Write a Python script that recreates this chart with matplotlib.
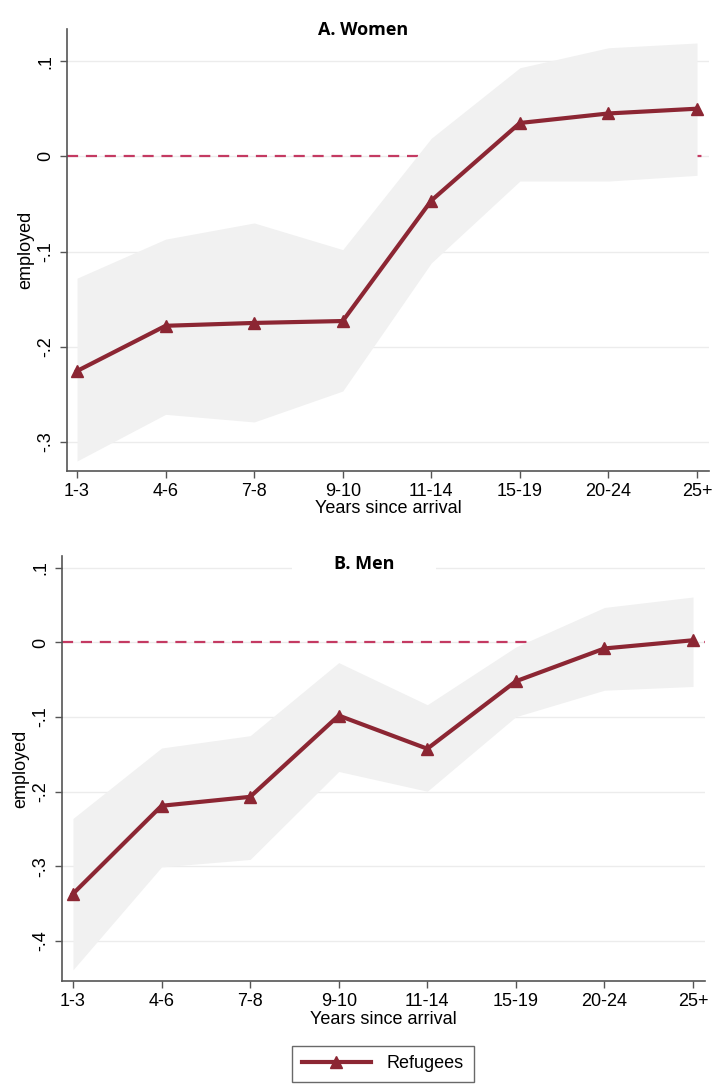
import matplotlib
matplotlib.use("Agg")
import matplotlib.pyplot as plt
from matplotlib.lines import Line2D

categories = ["1-3", "4-6", "7-8", "9-10", "11-14", "15-19", "20-24", "25+"]

women_est = [-0.2255, -0.178, -0.175, -0.173, -0.0465, 0.035, 0.045, 0.050]
women_hi = [-0.128, -0.087, -0.070, -0.098, 0.019, 0.093, 0.114, 0.119]
women_lo = [-0.320, -0.271, -0.279, -0.2465, -0.112, -0.026, -0.026, -0.020]

men_est = [-0.337, -0.219, -0.207, -0.098, -0.1425, -0.052, -0.008, 0.003]
men_hi = [-0.236, -0.1415, -0.125, -0.027, -0.0835, -0.006, 0.047, 0.061]
men_lo = [-0.439, -0.301, -0.291, -0.173, -0.1995, -0.0995, -0.064, -0.059]

women_ticks = [0.1, 0.0, -0.1, -0.2, -0.3]
women_ticklabels = [".1", "0", "-.1", "-.2", "-.3"]
men_ticks = [0.1, 0.0, -0.1, -0.2, -0.3, -0.4]
men_ticklabels = [".1", "0", "-.1", "-.2", "-.3", "-.4"]

plt.rcParams['font.family'] = ['Liberation Sans', 'DejaVu Sans']

LINE_C = "#8c2633"
FILL_C = "#f1f1f1"
DASH_C = "#c43a62"
GRID_C = "#ececec"
SPINE_C = "#555555"
FS = 13

fig = plt.figure(figsize=(7.18, 10.84), dpi=100)
W, H = 718, 1084


def make_ax(box, est, lo, hi, ticks, ticklabels, ylim, xlim):
    x0, y0, x1, y1 = box
    ax = fig.add_axes([x0 / W, 1 - y1 / H, (x1 - x0) / W, (y1 - y0) / H])
    xs = list(range(len(categories)))
    for t in ticks:
        ax.axhline(t, color=GRID_C, lw=1.0, zorder=0)
    ax.axhline(0, color=DASH_C, lw=1.6, ls=(0, (5, 3.5)), zorder=1)
    ax.fill_between(xs, lo, hi, color=FILL_C, lw=0, zorder=2)
    ax.plot(xs, est, color=LINE_C, lw=3, marker="^", ms=8.5, zorder=3)
    ax.set_xlim(*xlim)
    ax.set_ylim(*ylim)
    ax.set_xticks(xs)
    ax.set_xticklabels(categories, fontsize=FS)
    ax.set_yticks(ticks)
    ax.set_yticklabels(ticklabels, rotation=90, va="center", fontsize=FS)
    ax.set_xlabel("Years since arrival", fontsize=FS, labelpad=0)
    ax.set_ylabel("employed", fontsize=FS, labelpad=2)
    for s in ["top", "right"]:
        ax.spines[s].set_visible(False)
    for s in ["left", "bottom"]:
        ax.spines[s].set_color(SPINE_C)
        ax.spines[s].set_linewidth(1.2)
    ax.tick_params(direction="out", length=5, width=1, color=SPINE_C, pad=4)
    ax.set_facecolor("white")
    return ax


ax1 = make_ax((67, 29, 709, 471), women_est, women_lo, women_hi,
              women_ticks, women_ticklabels, (-0.3305, 0.1337), (-0.113, 7.135))
ax2 = make_ax((62, 556, 705, 981), men_est, men_lo, men_hi,
              men_ticks, men_ticklabels, (-0.454, 0.116), (-0.124, 7.135))

fig.text(363 / W, 1 - 30 / H, "A. Women", ha="center", va="center",
         fontsize=13, fontweight="bold", family=["Open Sans", "DejaVu Sans"],
         bbox=dict(facecolor="white", edgecolor="none",
                   boxstyle="square,pad=0.4"))
fig.text(364 / W, 1 - 564 / H, "B. Men", ha="center", va="center",
         fontsize=13, fontweight="bold", family=["Open Sans", "DejaVu Sans"],
         bbox=dict(facecolor="white", edgecolor="none",
                   boxstyle="square,pad=2.3"))

handle = Line2D([], [], color=LINE_C, lw=3, marker="^", ms=8.5)
leg = fig.legend([handle], ["Refugees"], loc="center",
                 bbox_to_anchor=(383 / W, 1 - 1064 / H), fontsize=FS,
                 frameon=True, fancybox=False, edgecolor="#444444",
                 handlelength=3.8, borderpad=0.55, handletextpad=0.9)
leg.get_frame().set_linewidth(1.0)

fig.savefig("out.png", dpi=100, facecolor="white")
